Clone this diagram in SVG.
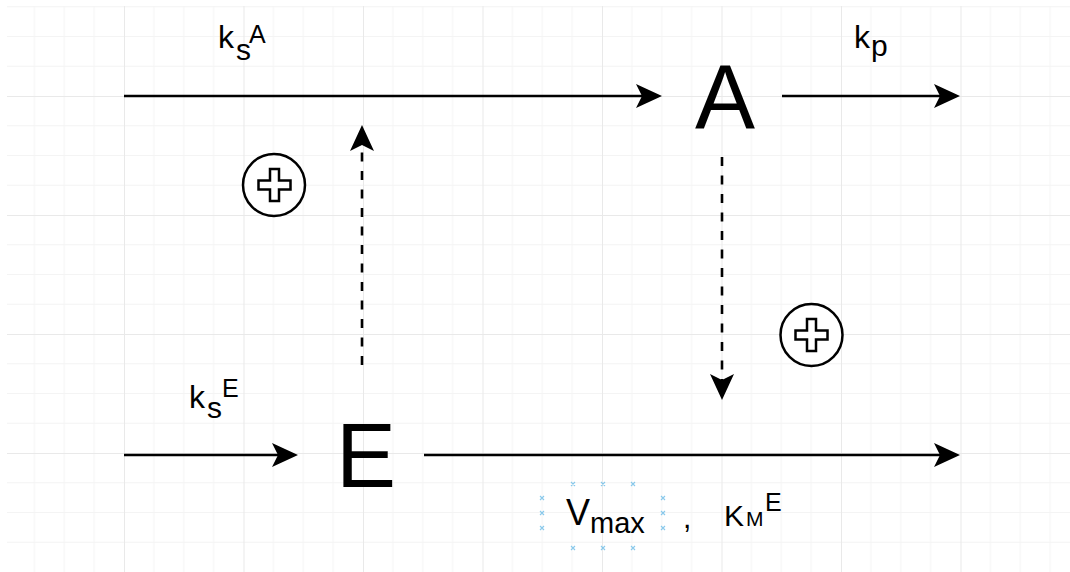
<svg xmlns="http://www.w3.org/2000/svg" width="1070" height="572" viewBox="0 0 1070 572">
<defs>
<pattern id="grid" patternUnits="userSpaceOnUse" x="124" y="96" width="119.5" height="119">
<path d="M29.9,0V119M59.75,0V119M89.6,0V119M0,29.75H119.5M0,59.5H119.5M0,89.25H119.5" stroke="#f4f4f4" stroke-width="1" fill="none"/>
<path d="M0.5,0V119M0,0.5H119.5" stroke="#e9e9e9" stroke-width="1" fill="none"/>
</pattern>
<marker id="arr" markerUnits="userSpaceOnUse" viewBox="0 0 28 26" markerWidth="28" markerHeight="26" refX="21" refY="13" orient="auto">
<path d="M1,1 L27,13 L1,25 L7,13 Z" fill="#000"/>
</marker>
<style>
.ln{stroke:#000;stroke-width:2.6;fill:none}
.dash{stroke:#000;stroke-width:2.6;fill:none;stroke-dasharray:9 9.5}
.t{font-family:"Liberation Sans",Arial,sans-serif;fill:#000}
.circ{fill:#fff;stroke:#000;stroke-width:2.5}
.plus{fill:#fff;stroke:#000;stroke-width:2.5}
.hx{stroke:#6dbde8;stroke-width:1.1;opacity:0.8}
</style>
</defs>
<rect width="1070" height="572" fill="#fff"/>
<rect x="7" y="6" width="1063" height="566" fill="url(#grid)"/>

<g id="connectors">
<path class="ln" d="M124,96 H656" marker-end="url(#arr)"/>
<path class="ln" d="M782,96 H954" marker-end="url(#arr)"/>
<path class="ln" d="M124,455 H292" marker-end="url(#arr)"/>
<path class="ln" d="M424,455 H954" marker-end="url(#arr)"/>
<path class="dash" d="M362,365 V131" marker-end="url(#arr)"/>
<path class="dash" d="M722,157 V394" marker-end="url(#arr)"/>
</g>

<g id="node-A"><text class="t" x="695" y="128" font-size="90">A</text></g>
<g id="node-E"><text class="t" x="336" y="487" font-size="90">E</text></g>

<g id="label-ksA">
<text class="t" x="218" y="48" font-size="32">k</text>
<text class="t" x="236" y="60" font-size="30">s</text>
<text class="t" x="249" y="43" font-size="25">A</text>
</g>
<g id="label-kp">
<text class="t" x="854" y="48" font-size="32">k</text>
<text class="t" x="871" y="56" font-size="30">p</text>
</g>
<g id="label-ksE">
<text class="t" x="189" y="408" font-size="32">k</text>
<text class="t" x="207" y="418" font-size="30">s</text>
<text class="t" x="222" y="397" font-size="25">E</text>
</g>

<g id="plus-1">
<circle class="circ" cx="274" cy="185" r="31"/>
<path class="plus" transform="translate(274.5,185)" d="M-4.5,-16H4.5V-4.5H16V4.5H4.5V16H-4.5V4.5H-16V-4.5H-4.5Z"/>
</g>
<g id="plus-2">
<circle class="circ" cx="811.5" cy="335" r="31"/>
<path class="plus" transform="translate(811.5,335)" d="M-4.5,-16H4.5V-4.5H16V4.5H4.5V16H-4.5V4.5H-16V-4.5H-4.5Z"/>
</g>

<g id="label-vmax">
<g class="hx">
<path d="M540,496l4,4m0,-4l-4,4M540,511l4,4m0,-4l-4,4M540,526l4,4m0,-4l-4,4"/>
<path d="M661,496l4,4m0,-4l-4,4M661,511l4,4m0,-4l-4,4M661,526l4,4m0,-4l-4,4"/>
<path d="M571,482l4,4m0,-4l-4,4M601,482l4,4m0,-4l-4,4"/>
</g>
<g class="hx" opacity="0.3">
<path d="M631,482l4,4m0,-4l-4,4M571,546l4,4m0,-4l-4,4M601,546l4,4m0,-4l-4,4M631,546l4,4m0,-4l-4,4"/>
</g>
<text class="t" x="566" y="525" font-size="36">V</text>
<text class="t" x="590" y="533" font-size="29">max</text>
<text class="t" x="683" y="528" font-size="30">,</text>
<text class="t" x="724" y="526" font-size="30">K</text>
<text class="t" x="746" y="526" font-size="21">M</text>
<text class="t" x="765" y="511" font-size="25">E</text>
</g>
</svg>
